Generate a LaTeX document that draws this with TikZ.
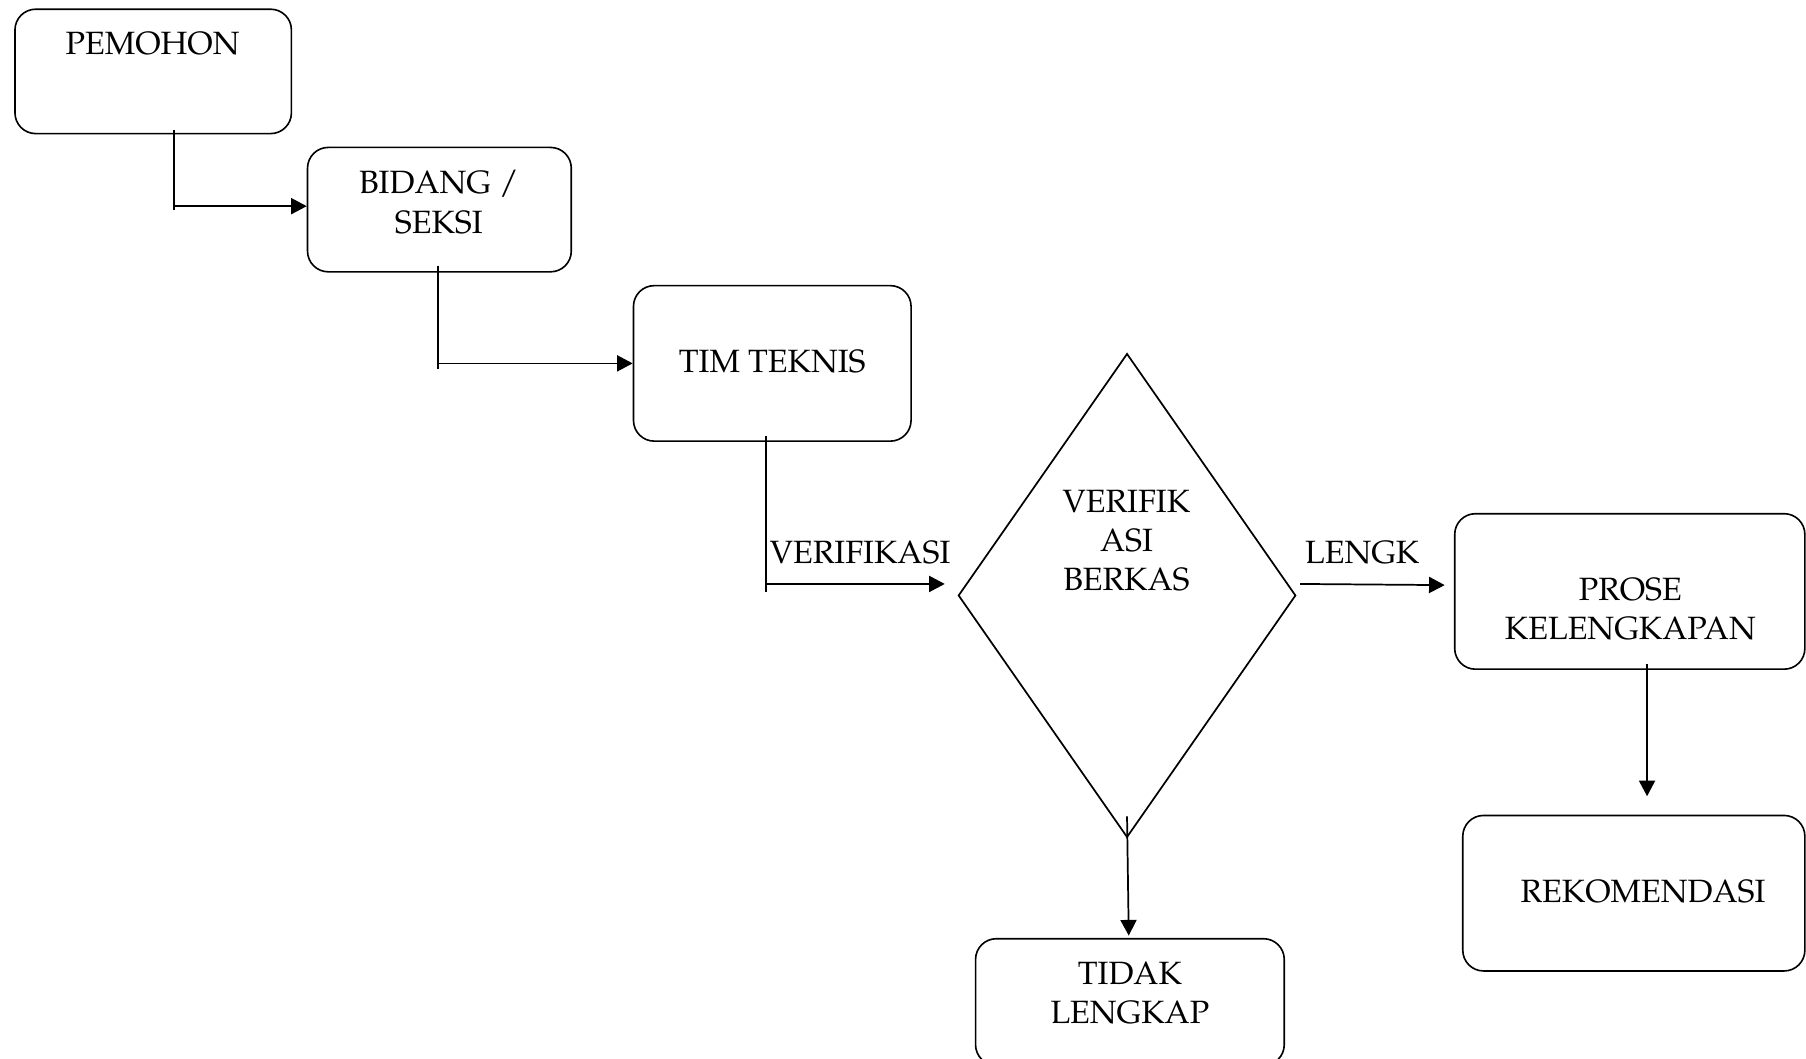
\documentclass[tikz,border=0pt]{standalone}
\usepackage[T1]{fontenc}
\usepackage{mathpazo}
\usetikzlibrary{shapes.geometric,arrows.meta,calc}
\begin{document}
\begin{tikzpicture}[x=0.5pt,y=-0.5pt,
  font=\fontsize{14}{17}\selectfont,
  box/.style={draw=black,line width=0.7pt,rounded corners=9pt,inner sep=0pt},
  dec/.style={draw=black,line width=0.75pt,diamond,inner sep=0pt,minimum width=146.5pt,minimum height=210pt},
  txt/.style={align=center,inner sep=0pt},
  con/.style={line width=0.75pt},
  arr/.style={con,-{Triangle[length=6.8pt,width=7pt]}}]
\useasboundingbox (0,0) rectangle (1568,919);
% boxes
\node[box,minimum width=120pt,minimum height=54pt] (pem) at (133,62) {};
\node[box,minimum width=114.5pt,minimum height=54pt] (bid) at (381.5,182) {};
\node[box,minimum width=120.5pt,minimum height=67.5pt] (tim) at (670.5,315.5) {};
\node[dec] (dia) at (978.5,517) {};
\node[box,minimum width=152pt,minimum height=67.5pt] (pro) at (1415,513.5) {};
\node[box,minimum width=148.5pt,minimum height=67.5pt] (rek) at (1418.5,775.5) {};
\node[box,minimum width=134pt,minimum height=55pt] (tid) at (981,870) {};
% texts
\node[txt] (pemt) at (132.5,38) {PEMOHON};
\node[txt] (bidt) at (381,175.5) {BIDANG /\\SEKSI};
\node[txt] (timt) at (670.5,314) {TIM TEKNIS};
\node[txt] (diat) at (978,469.5) {VERIFIK\\ASI\\BERKAS};
\node[txt] (prot) at (1415.5,529) {PROSE\\KELENGKAPAN};
\node[txt] (rekt) at (1426.5,774) {REKOMENDASI};
\node[txt] (tidt) at (981,862.5) {TIDAK\\LENGKAP};
% connector 1
\coordinate (a1) at ($(pem.south)+(18,-4)$);
\coordinate (a1h) at ($(a1 |- bid.west)+(0,-3)$);
\draw[con] (a1) -- ($(a1h)+(0,3)$);
\draw[arr] (a1h) -- (a1h -| bid.west);
% connector 2
\coordinate (a2) at ($(bid.south)+(-1.5,-6)$);
\coordinate (a2h) at (a2 |- tim.west);
\draw[con] (a2) -- ($(a2h)+(0,5)$);
\draw[arr] (a2h) -- (tim.west);
% connector 3
\coordinate (a3) at ($(tim.south)+(-5.5,-5)$);
\coordinate (v1) at ($(dia.west)+(-11,-10)$);
\coordinate (a3h) at (a3 |- v1);
\draw[con] (a3) -- ($(a3h)+(0,7)$);
\draw[arr] (a3h) -- (v1);
\node[anchor=base west,inner sep=0pt] (lver) at ($(a3h)+(3,-18)$) {VERIFIKASI};
% connector 4
\coordinate (b1) at ($(dia.east)+(3,-10)$);
\coordinate (b2) at ($(pro.west)+(-8,-5.5)$);
\draw[arr] (b1) -- (b2);
\node[anchor=base west,inner sep=0pt] (llen) at ($(b1)+(4,-18)$) {LENGK};
% connector 5
\coordinate (c1) at ($(pro.south)+(15,-5)$);
\coordinate (c2) at ($(c1 |- rek.north)+(0,-16)$);
\draw[arr] (c1) -- (c2);
% connector 6
\coordinate (d1) at ($(dia.south)+(0,-19)$);
\coordinate (d2) at ($(tid.north)+(-1,-2)$);
\draw[arr] (d1) -- (d2);
\end{tikzpicture}
\end{document}
